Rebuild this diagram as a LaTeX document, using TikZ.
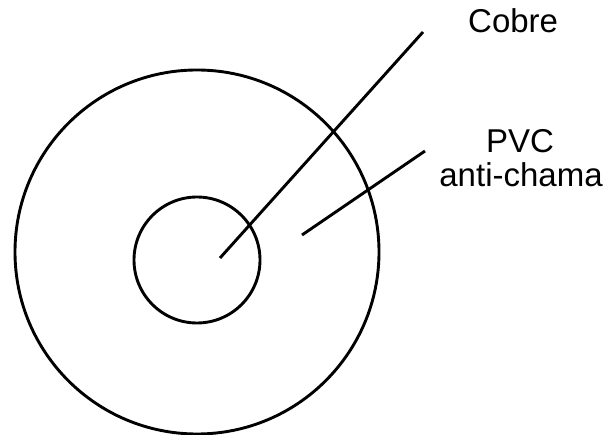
\documentclass[tikz,border=0pt]{standalone}
\usepackage{fontspec}
\setmainfont{Liberation Sans}
\usetikzlibrary{positioning,calc}
\definecolor{cabLine}{HTML}{000000}

\begin{document}
\begin{tikzpicture}[x=1pt, y=-1pt,
  cabStroke/.style={cabLine, line width=2.9pt},
  cabLabel/.style={font=\fontsize{33}{34}\selectfont, text=cabLine, inner sep=0pt}]

\useasboundingbox (0,0) rectangle (610,435);

\def\cx{197}
\def\cyOuter{252}
\def\cyCore{260}
\def\rOuter{182}
\def\rCore{63}

% --- PVC JACKET (outer ring) ---
\draw[cabStroke] (\cx,\cyOuter) circle[radius=\rOuter pt];

% --- COPPER CORE ---
\draw[cabStroke] (\cx,\cyCore) circle[radius=\rCore pt];

% --- LABELS ---
\node[cabLabel, anchor=base west] (cobreTxt) at (468,33) {Cobre};
\node[cabLabel, anchor=base] (pvcTxt) at (520,153) {PVC};
\node[cabLabel, anchor=base] (chamaTxt) at (521,187) {anti-chama};

% --- LEADER LINES ---
\coordinate (cobreTip) at (220,258);
\coordinate (cobreEnd) at (423,32);
\draw[cabStroke] (cobreTip) -- (cobreEnd);

\coordinate (pvcTip) at (302,235);
\coordinate (pvcEnd) at (425,151);
\draw[cabStroke] (pvcTip) -- (pvcEnd);

\end{tikzpicture}
\end{document}
